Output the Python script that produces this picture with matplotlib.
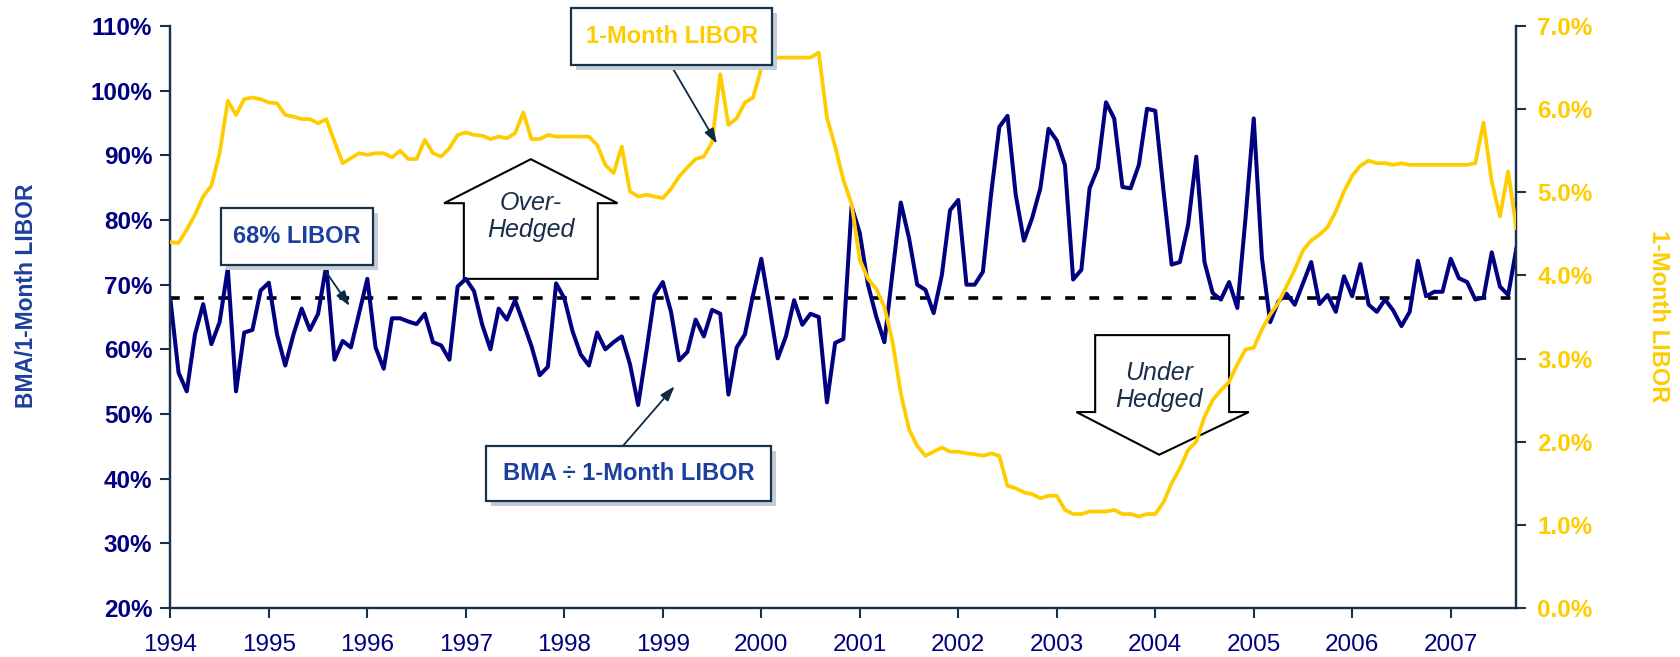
import numpy as np
import matplotlib
matplotlib.use("Agg")
import matplotlib.pyplot as plt
from matplotlib.patches import Rectangle, Polygon
from matplotlib.transforms import offset_copy

plt.rcParams['font.family'] = ['Liberation Sans', 'DejaVu Sans']

# monthly series, Jan 1994 .. Sep 2007
start_year = 1994
ratio = [
    67.8, 56.4, 53.5, 62.3, 67.0, 60.8, 64.2, 72.5, 53.5, 62.6, 63.0, 69.1,
    70.3, 62.3, 57.5, 62.3, 66.3, 63.0, 65.5, 73.0, 58.4, 61.3, 60.3, 65.6,
    70.9, 60.3, 57.0, 64.8, 64.8, 64.3, 63.9, 65.5, 61.1, 60.6, 58.4, 69.7,
    70.9, 69.0, 63.8, 60.0, 66.3, 64.6, 67.6, 64.1, 60.5, 56.0, 57.3, 70.2,
    67.9, 62.8, 59.2, 57.5, 62.6, 60.0, 61.1, 62.0, 57.7, 51.4, 59.7, 68.4,
    70.4, 65.8, 58.3, 59.6, 64.6, 62.0, 66.1, 65.5, 53.0, 60.3, 62.3, 68.4,
    74.0, 66.6, 58.6, 62.0, 67.6, 63.8, 65.5, 65.0, 51.8, 61.0, 61.6, 82.1,
    78.0, 70.0, 65.1, 61.1, 72.0, 82.7, 77.2, 70.0, 69.2, 65.6, 71.5, 81.5,
    83.1, 70.0, 70.0, 72.0, 84.0, 94.4, 96.1, 83.9, 76.8, 80.3, 84.9, 94.1,
    92.3, 88.5, 70.8, 72.3, 84.9, 88.0, 98.2, 95.7, 85.1, 84.9, 88.5, 97.2,
    96.9, 84.6, 73.1, 73.5, 79.2, 89.8, 73.5, 68.7, 67.7, 70.4, 66.4, 80.3,
    95.7, 74.1, 64.2, 67.4, 68.6, 66.9, 70.2, 73.5, 67.0, 68.4, 65.8, 71.3,
    68.2, 73.2, 66.9, 65.8, 67.7, 66.0, 63.6, 65.8, 73.7, 68.2, 68.9, 68.9,
    74.0, 71.0, 70.4, 67.7, 68.0, 75.0, 69.7, 68.4, 75.6,
]
libor = [
    4.40, 4.39, 4.55, 4.73, 4.95, 5.08, 5.47, 6.10, 5.93, 6.12, 6.14, 6.12,
    6.08, 6.07, 5.93, 5.91, 5.88, 5.88, 5.83, 5.88, 5.61, 5.35, 5.41, 5.47,
    5.45, 5.47, 5.47, 5.42, 5.50, 5.40, 5.40, 5.63, 5.47, 5.43, 5.53, 5.69,
    5.72, 5.69, 5.68, 5.64, 5.67, 5.65, 5.71, 5.96, 5.64, 5.64, 5.69, 5.67,
    5.67, 5.67, 5.67, 5.67, 5.57, 5.33, 5.23, 5.55, 5.01, 4.95, 4.97, 4.95,
    4.93, 5.04, 5.19, 5.30, 5.40, 5.43, 5.60, 6.42, 5.81, 5.89, 6.08, 6.14,
    6.49, 6.60, 6.62, 6.62, 6.62, 6.62, 6.62, 6.68, 5.90, 5.55, 5.15, 4.86,
    4.19, 3.96, 3.84, 3.62, 3.20, 2.58, 2.15, 1.95, 1.83, 1.88, 1.93, 1.88,
    1.88, 1.86, 1.85, 1.83, 1.86, 1.83, 1.47, 1.44, 1.39, 1.37, 1.32, 1.35,
    1.35, 1.18, 1.13, 1.13, 1.16, 1.16, 1.16, 1.18, 1.13, 1.13, 1.10, 1.13,
    1.13, 1.27, 1.50, 1.68, 1.90, 2.00, 2.30, 2.50, 2.62, 2.72, 2.93, 3.11,
    3.13, 3.35, 3.53, 3.67, 3.87, 4.07, 4.30, 4.42, 4.49, 4.58, 4.77, 5.01,
    5.20, 5.32, 5.38, 5.35, 5.35, 5.33, 5.35, 5.33, 5.33, 5.33, 5.33, 5.33,
    5.33, 5.33, 5.33, 5.35, 5.84, 5.13, 4.71, 5.25, 4.57,
]
hedge_level = 68
year_ticks = list(range(1994, 2008))
ratio_ticks = list(range(20, 111, 10))
libor_ticks = list(range(0, 8))

NAVY = '#000080'
GOLD = '#ffcc00'
BLUE = '#1c3f9e'
DARK = '#17324a'

x = start_year + np.arange(len(ratio)) / 12

fig = plt.figure(figsize=(16.8, 6.57), dpi=100)
ax = fig.add_axes([0.1014, 0.0746, 0.8012, 0.8858])
ax2 = ax.twinx()

ax.plot(x, ratio, color=NAVY, lw=2.9, zorder=3)
ax.plot(x, np.full(len(x), hedge_level), color='black', lw=2.6,
        linestyle=(0, (2.7, 4)), zorder=2.5)
ax2.plot(x, libor, color=GOLD, lw=2.7, zorder=3)

ax.set_xlim(x[0], x[-1])
ax.set_ylim(20, 110)
ax2.set_ylim(0, 7)

ax.set_xticks(year_ticks)
ax.set_xticklabels([str(y) for y in year_ticks], fontsize=17.5, color=NAVY)
ax.set_yticks(ratio_ticks)
ax.set_yticklabels([f'{v}%' for v in ratio_ticks], fontsize=17.5,
                   color=NAVY, fontweight='bold')
ax2.set_yticks(libor_ticks)
ax2.set_yticklabels([f'{v:.1f}%' for v in libor_ticks], fontsize=17.5,
                    color=GOLD, fontweight='bold')

for a in (ax, ax2):
    a.spines['top'].set_visible(False)
    for s in ('left', 'right', 'bottom'):
        a.spines[s].set_color(DARK)
        a.spines[s].set_linewidth(1.6)
ax.tick_params(axis='y', length=7, width=1.5, color=DARK, pad=6)
ax.tick_params(axis='x', length=7, width=1.5, color=DARK, pad=12)
ax2.tick_params(axis='y', length=7, width=1.5, color=DARK, pad=8)

fig.text(27 / 1680, 1 - 296 / 657, 'BMA/1-Month LIBOR', rotation=90,
         ha='center', va='center', fontsize=16.5, fontweight='bold',
         color=BLUE)
fig.text(1658 / 1680, 1 - 316 / 657, '1-Month LIBOR', rotation=-90,
         ha='center', va='center', fontsize=17, fontweight='bold',
         color=GOLD)

# over / under hedged block arrows
over = [(1996.98, 70.9), (1996.98, 82.6), (1996.78, 82.6), (1997.66, 89.4),
        (1998.54, 82.6), (1998.34, 82.6), (1998.34, 70.9)]
under = [(2003.39, 62.2), (2003.39, 50.3), (2003.20, 50.3), (2004.04, 43.7),
         (2004.95, 50.3), (2004.75, 50.3), (2004.75, 62.2)]
for pts in (over, under):
    ax.add_patch(Polygon(pts, closed=True, fc='white', ec='black', lw=1.5,
                         zorder=1.5))
ax.text(1997.66, 80.5, 'Over-\nHedged', ha='center', va='center',
        fontsize=18, style='italic', color='#1a2e4a', linespacing=1.15,
        zorder=1.6)
ax.text(2004.04, 54.3, 'Under\nHedged', ha='center', va='center',
        fontsize=18, style='italic', color='#1a2e4a', linespacing=1.15,
        zorder=1.6)


def label_box(x0, x1, y0, y1, text, color):
    shadow_tr = offset_copy(ax.transData, fig=fig, x=5, y=-5, units='dots')
    ax2.add_patch(Rectangle((x0, y0), x1 - x0, y1 - y0, transform=shadow_tr,
                            fc='#c3cdd6', ec='none', zorder=8, clip_on=False))
    ax2.add_patch(Rectangle((x0, y0), x1 - x0, y1 - y0,
                            transform=ax.transData, fc='white', ec=DARK,
                            lw=1.6, zorder=9, clip_on=False))
    ax2.text((x0 + x1) / 2, (y0 + y1) / 2, text, transform=ax.transData,
             ha='center', va='center', fontsize=17, fontweight='bold',
             color=color, zorder=10, clip_on=False)


def pointer(start, tip):
    ax2.annotate('', xy=tip, xytext=start, xycoords=ax.transData,
                 textcoords=ax.transData, zorder=7,
                 arrowprops=dict(arrowstyle='-|>,head_length=0.9,head_width=0.3',
                                 color='#0d2b45', lw=1.3, shrinkA=0, shrinkB=0))


pointer((1995.52, 73.3), (1995.82, 66.7))
label_box(1994.51, 1996.06, 73.0, 81.8, '68% LIBOR', BLUE)

pointer((1999.08, 104.0), (1999.55, 91.8))
label_box(1998.07, 2000.11, 104.0, 112.8, '1-Month LIBOR', GOLD)

pointer((1998.58, 44.8), (1999.12, 54.3))
label_box(1997.20, 2000.10, 36.5, 45.1, 'BMA \u00f7 1-Month LIBOR', BLUE)

ax.set_ylim(20, 110)
ax2.set_ylim(0, 7)
ax.set_xlim(x[0], x[-1])

fig.savefig('out.png', dpi=100)
